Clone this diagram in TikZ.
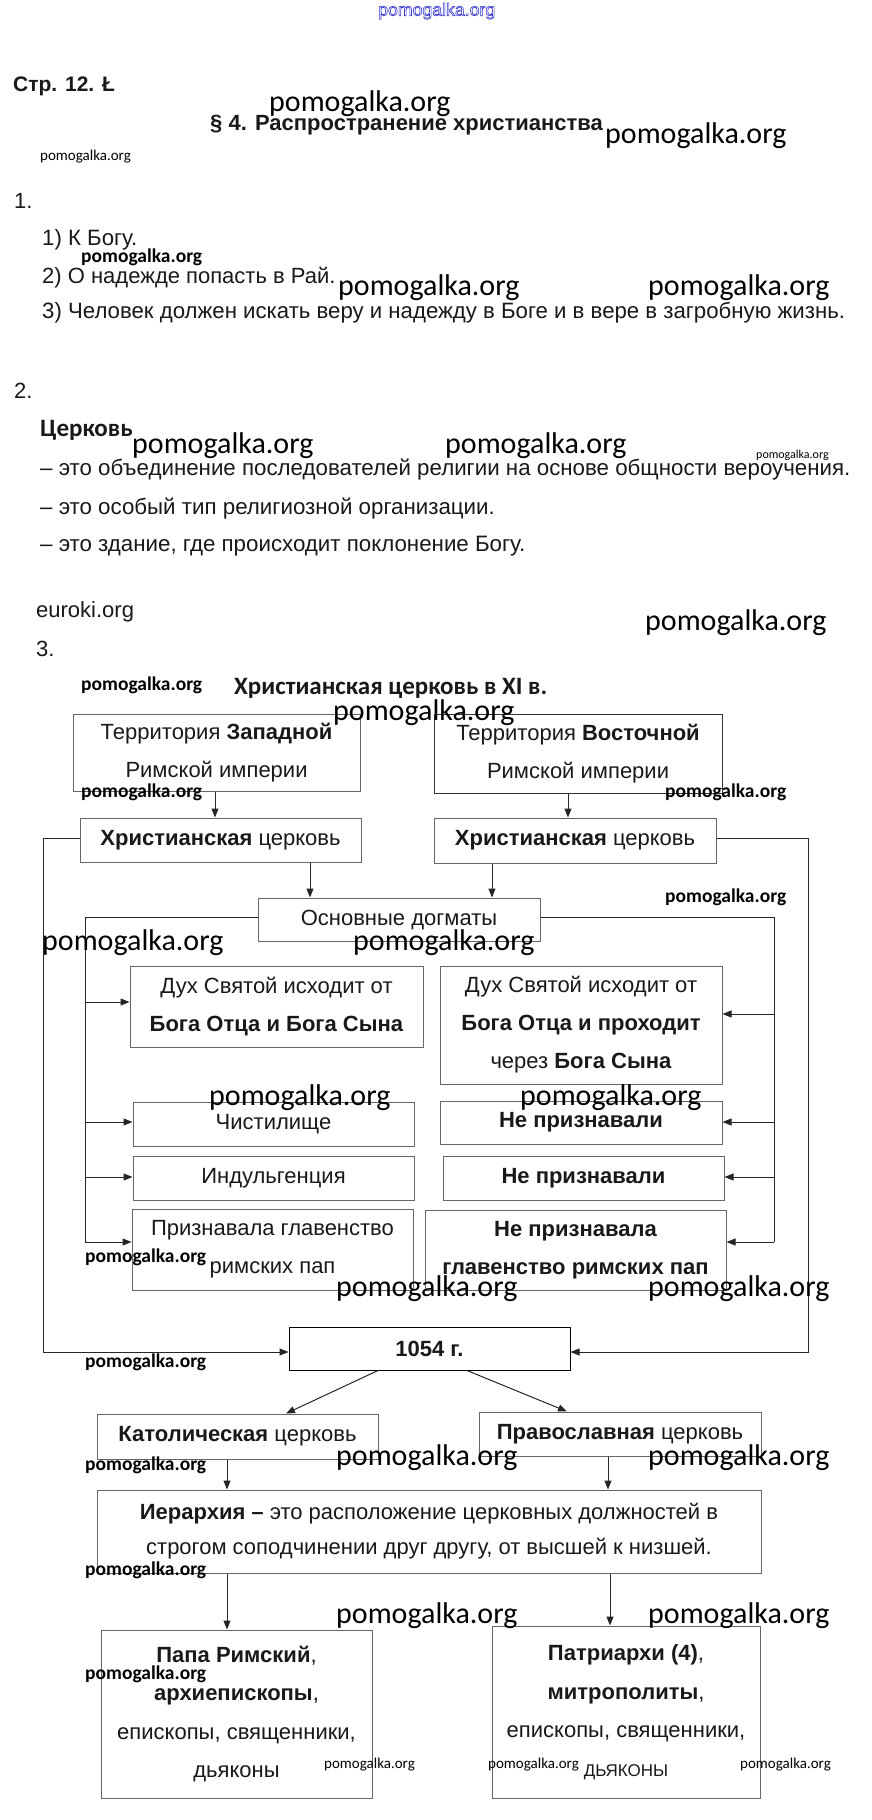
\documentclass[tikz,border=0pt]{standalone}
\usepackage{fontspec}
\setmainfont{Liberation Sans}
\newfontfamily\wmfont{Carlito}
\usetikzlibrary{arrows.meta}
\newcommand{\fsz}[2]{\fontsize{#1}{#2}\selectfont}
\definecolor{wmblue}{RGB}{55,55,205}
\begin{document}
\begin{tikzpicture}[x=1pt,y=-1pt,
  txt/.style={anchor=west,inner sep=0pt,text height=0.72em,text depth=0.18em,font=\fsz{22}{26},text=black!90},
  btxt/.style={txt,font=\bfseries\fsz{22}{26}},
  wmL/.style={anchor=west,inner sep=0pt,text height=0.72em,text depth=0.18em,font=\wmfont\fsz{30}{32}},
  wmS/.style={anchor=west,inner sep=0pt,text height=0.72em,text depth=0.18em,font=\wmfont\bfseries\fsz{19.5}{21}},
  wmT/.style={anchor=west,inner sep=0pt,text height=0.72em,text depth=0.18em,font=\wmfont\fsz{15}{16}},
  box/.style={draw=black!60,line width=1pt,inner sep=0pt,align=center,font=\fsz{22}{38},text=black!90},
  con/.style={draw=black!85,line width=1pt},
  arr/.style={con,-{Triangle[length=9pt,width=7pt]}},
]
\useasboundingbox (0,0) rectangle (872,1820);
\fill[white] (0,0) rectangle (872,1820);

% ---------- header ----------
\node[anchor=west,inner sep=0pt,text height=0.72em,text depth=0.18em,font=\fsz{17.7}{20},text=wmblue] (wm0) at (378,13) {\special{pdf:literal direct 1 Tr 0.6 w}pomogalka.org\special{pdf:literal direct 0 Tr}};
\node[txt,font=\bfseries\fsz{21}{24}] (p12) at (13,89) {Стр. 12. Ł};
\node[btxt] (sec4) at (210,128) {§ 4. Распространение христианства};

% ---------- section 1 ----------
\node[txt] (n1) at (14,206) {1.};
\node[txt,font=\fsz{22.2}{26}] (a1) at (42,243) {1) К Богу.};
\node[txt,font=\fsz{22}{26}] (a2) at (42,281) {2) О надежде попасть в Рай.};
\node[txt,font=\fsz{22.2}{26}] (a3) at (42,316) {3) Человек должен искать веру и надежду в Боге и в вере в загробную жизнь.};

% ---------- section 2 ----------
\node[txt] (n2) at (14,396) {2.};
\node[txt,font=\wmfont\bfseries\fsz{25}{28}] (cerk) at (40,434) {Церковь};
\node[txt,font=\fsz{22.3}{26}] (d1) at (40,473) {– это объединение последователей религии на основе общности вероучения.};
\node[txt,font=\fsz{22.3}{26}] (d2) at (40,512) {– это особый тип религиозной организации.};
\node[txt,font=\fsz{22.3}{26}] (d3) at (40,549) {– это здание, где происходит поклонение Богу.};
\node[txt] (eu) at (36,615) {euroki.org};
\node[txt] (n3) at (36,654) {3.};

% ---------- section 3: diagram ----------
\node[txt,font=\wmfont\bfseries\fsz{25}{28}] (title) at (234,692) {Христианская церковь в XI в.};

\node[box,minimum width=287pt,minimum height=77pt] (w1) at (216.5,752.5) {Территория \textbf{Западной}\\Римской империи};
\node[box,draw=black!80,minimum width=288pt,minimum height=79pt] (e1) at (578,753.5) {Территория \textbf{Восточной}\\Римской империи};
\node[box,minimum width=281pt,minimum height=44pt] (w2) at (220.5,840) {\textbf{Христианская} церковь};
\node[box,minimum width=282pt,minimum height=45pt] (e2) at (575,840.5) {\textbf{Христианская} церковь};
\node[box,minimum width=282pt,minimum height=43pt] (dogm) at (399,919.5) {Основные догматы};

\node[box,minimum width=293pt,minimum height=81pt] (l1) at (276.5,1006.5) {Дух Святой исходит от\\\textbf{Бога Отца и Бога Сына}};
\node[box,minimum width=282pt,minimum height=118pt] (r1) at (581,1025) {Дух Святой исходит от\\\textbf{Бога Отца и проходит}\\через \textbf{Бога Сына}};
\node[box,minimum width=281pt,minimum height=44pt] (l2) at (273.5,1124) {Чистилище};
\node[box,minimum width=282pt,minimum height=43pt] (r2) at (581,1122.5) {\textbf{Не признавали}};
\node[box,minimum width=281pt,minimum height=44pt] (l3) at (273.5,1178) {Индульгенция};
\node[box,minimum width=281pt,minimum height=44pt] (r3) at (583.5,1178) {\textbf{Не признавали}};
\node[box,minimum width=281pt,minimum height=81pt] (l4) at (272.5,1249.5) {Признавала главенство\\римских пап};
\node[box,minimum width=301pt,minimum height=80pt] (r4) at (575.5,1250) {\textbf{Не признавала}\\\textbf{главенство римских пап}};

\node[box,draw=black,minimum width=281pt,minimum height=43pt] (y1054) at (429.5,1348.5) {\textbf{1054 г.}};
\node[box,minimum width=281pt,minimum height=45pt] (cath) at (237.5,1436.5) {\textbf{Католическая} церковь};
\node[box,minimum width=282pt,minimum height=44pt] (orth) at (620,1434) {\textbf{Православная} церковь};
\node[box,font=\fsz{22}{35},minimum width=664pt,minimum height=83pt] (hier) at (429,1531.5) {\textbf{Иерархия –} это расположение церковных должностей в\\строгом соподчинении друг другу, от высшей к низшей.};
\node[box,font=\fsz{22}{38.5},minimum width=271pt,minimum height=168pt] (papa) at (236.5,1714) {\textbf{Папа Римский},\\\textbf{архиепископы},\\епископы, священники,\\дьяконы};
\node[box,font=\fsz{22}{38.5},minimum width=268pt,minimum height=172pt] (patr) at (626,1712) {\textbf{Патриархи (4)},\\\textbf{митрополиты},\\епископы, священники,\\{\fsz{17}{38.5}ДЬЯКОНЫ}};

% ---------- connectors ----------
\coordinate (a1s) at ([xshift=-1.5pt]w1.south);
\draw[arr] (a1s) -- (a1s |- w2.north);
\coordinate (a2s) at ([xshift=-10pt]e1.south);
\draw[arr] (a2s) -- (a2s |- e2.north);
\coordinate (a3s) at ([xshift=89.5pt]w2.south);
\draw[arr] (a3s) -- (a3s |- dogm.north);
\coordinate (a4s) at ([xshift=-83pt]e2.south);
\draw[arr] (a4s) -- (a4s |- dogm.north);

\coordinate (ol) at (43,838);
\coordinate (ywin) at ([yshift=-3.5pt]y1054.west);
\coordinate (yein) at ([yshift=-3.5pt]y1054.east);
\draw[arr] (ol -| w2.west) -- (ol) |- (ywin);
\coordinate (or) at (808,838);
\draw[arr] (or -| e2.east) -- (or) |- (yein);

\coordinate (il) at (85,917.5);
\coordinate (il1) at (85,1002);
\coordinate (il2) at (85,1122);
\coordinate (il3) at (85,1177);
\coordinate (il4) at (85,1242);
\draw[con] (il -| dogm.west) -- (il) -- (il4);
\draw[arr] (il1) -- (il1 -| l1.west);
\draw[arr] (il2) -- (il2 -| l2.west);
\draw[arr] (il3) -- (il3 -| l3.west);
\draw[arr] (il4) -- (il4 -| l4.west);

\coordinate (ir) at (774,917.5);
\coordinate (ir1) at (774,1014);
\coordinate (ir2) at (774,1122);
\coordinate (ir3) at (774,1177);
\coordinate (ir4) at (774,1242);
\draw[con] (ir -| dogm.east) -- (ir) -- (ir4);
\draw[arr] (ir1) -- (ir1 -| r1.east);
\draw[arr] (ir2) -- (ir2 -| r2.east);
\draw[arr] (ir3) -- (ir3 -| r3.east);
\draw[arr] (ir4) -- (ir4 -| r4.east);

\draw[arr] ([xshift=-51.5pt]y1054.south) -- ([xshift=48.5pt]cath.north);
\draw[arr] ([xshift=37.5pt]y1054.south) -- ([xshift=-53pt]orth.north);

\coordinate (c1) at ([xshift=-10.5pt]cath.south);
\draw[arr] (c1) -- (c1 |- hier.north);
\coordinate (c2) at ([xshift=-12pt]orth.south);
\draw[arr] (c2) -- (c2 |- hier.north);
\coordinate (h1) at ([xshift=-202pt]hier.south);
\draw[arr] (h1) -- (h1 |- papa.north);
\coordinate (h2) at ([xshift=181pt]hier.south);
\draw[arr] (h2) -- (h2 |- patr.north);

% ---------- watermarks ----------
\node[wmL] (wm1) at (269,109) {pomogalka.org};
\node[wmL] (wm2) at (605,141) {pomogalka.org};
\node[wmT] (wm3) at (40,158) {pomogalka.org};
\node[wmS] (wm4) at (81,260) {pomogalka.org};
\node[wmL] (wm5) at (338,293) {pomogalka.org};
\node[wmL] (wm6) at (648,293) {pomogalka.org};
\node[wmL] (wm7) at (132,451) {pomogalka.org};
\node[wmL] (wm8) at (445,451) {pomogalka.org};
\node[wmT,font=\wmfont\fsz{12}{13}] (wm9) at (756,456) {pomogalka.org};
\node[wmL] (wm10) at (645,628) {pomogalka.org};
\node[wmS] (wm11) at (81,688) {pomogalka.org};
\node[wmL] (wm12) at (333,718) {pomogalka.org};
\node[wmS] (wm13) at (81,795) {pomogalka.org};
\node[wmS] (wm14) at (665,795) {pomogalka.org};
\node[wmS] (wm15) at (665,900) {pomogalka.org};
\node[wmL] (wm16) at (42,948) {pomogalka.org};
\node[wmL] (wm17) at (353,948) {pomogalka.org};
\node[wmL] (wm18) at (209,1103) {pomogalka.org};
\node[wmL] (wm19) at (520,1103) {pomogalka.org};
\node[wmS] (wm20) at (85,1260) {pomogalka.org};
\node[wmL] (wm21) at (336,1294) {pomogalka.org};
\node[wmL] (wm22) at (648,1294) {pomogalka.org};
\node[wmS] (wm23) at (85,1365) {pomogalka.org};
\node[wmL] (wm24) at (336,1463) {pomogalka.org};
\node[wmL] (wm25) at (648,1463) {pomogalka.org};
\node[wmS] (wm26) at (85,1468) {pomogalka.org};
\node[wmS] (wm27) at (85,1573) {pomogalka.org};
\node[wmL] (wm28) at (336,1621) {pomogalka.org};
\node[wmL] (wm29) at (648,1621) {pomogalka.org};
\node[wmS] (wm30) at (85,1677) {pomogalka.org};
\node[wmT] (wm31) at (324,1766) {pomogalka.org};
\node[wmT] (wm32) at (488,1766) {pomogalka.org};
\node[wmT] (wm33) at (740,1766) {pomogalka.org};
\end{tikzpicture}
\end{document}
